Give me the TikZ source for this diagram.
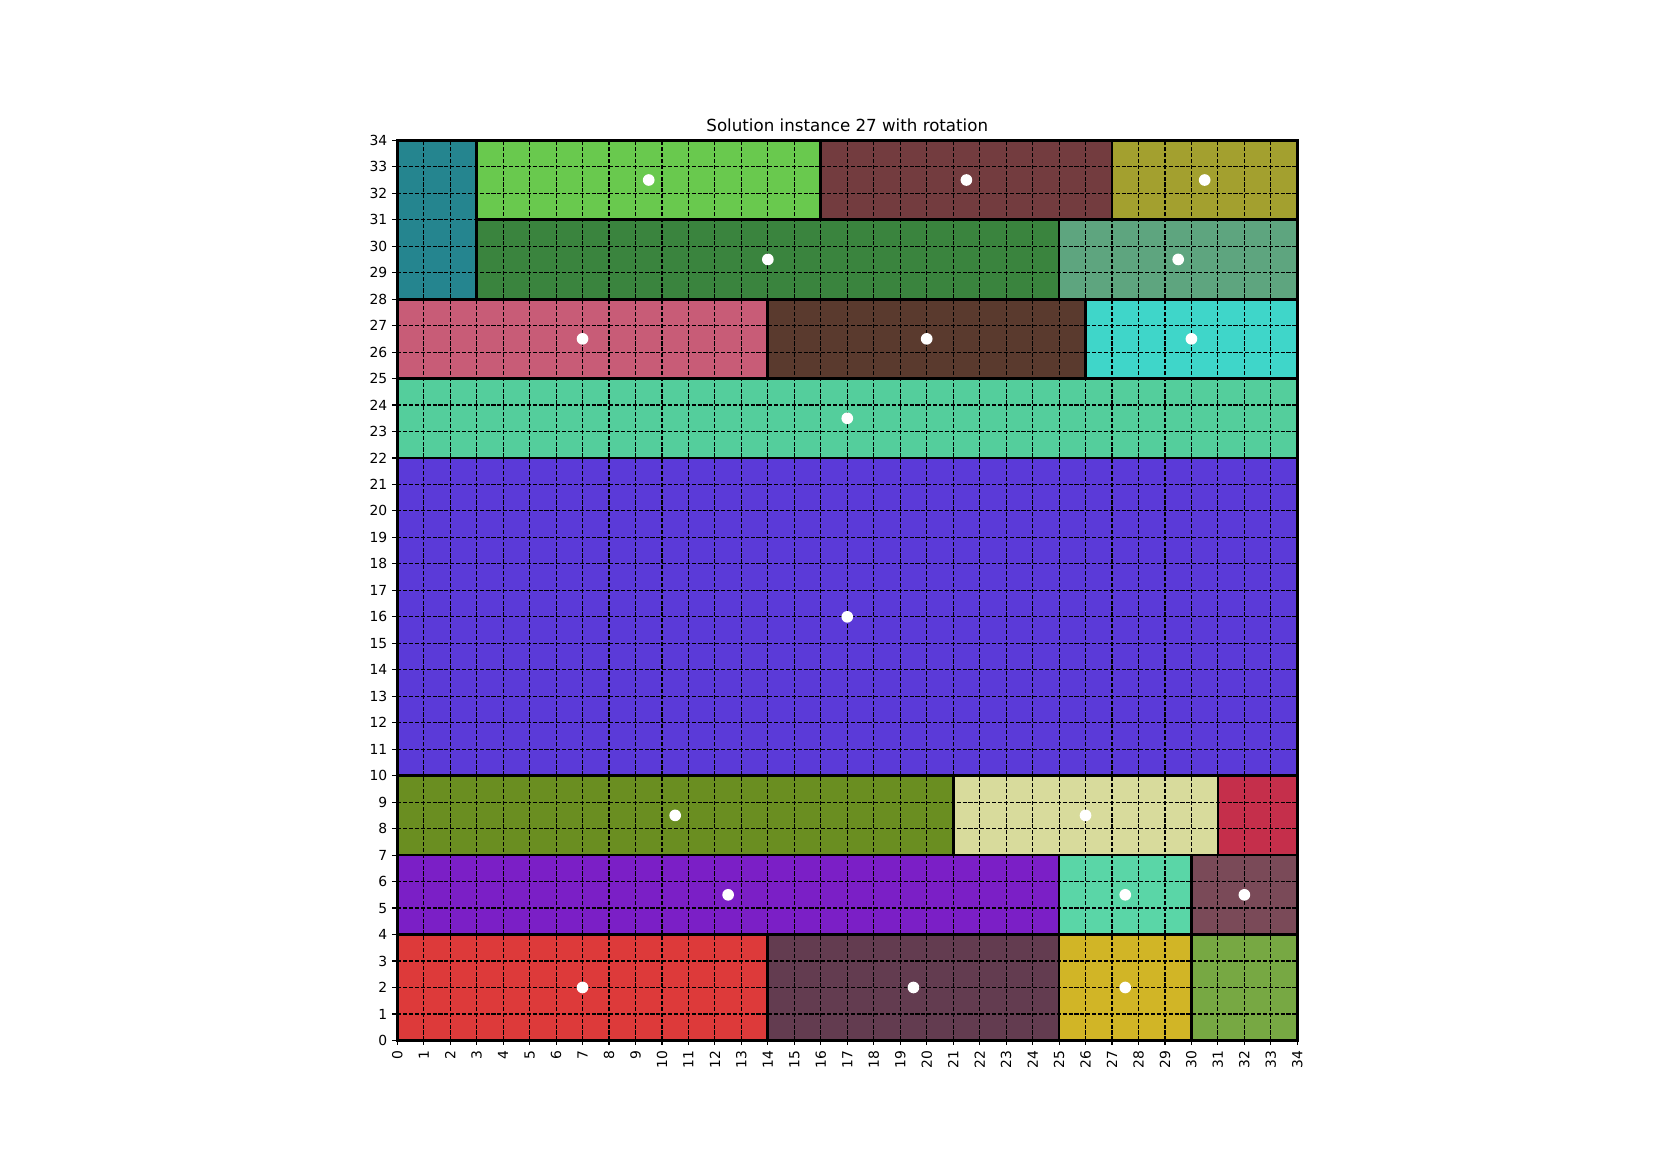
\documentclass[tikz,border=0pt]{standalone}
\usepackage{fontspec}
\setmainfont{DejaVu Sans}
\usepackage{tikz}
\usetikzlibrary{calc}

\definecolor{cTeal}{HTML}{25858F}
\definecolor{cLime}{HTML}{69C94E}
\definecolor{cWine}{HTML}{733C3F}
\definecolor{cOlive}{HTML}{A3A02F}
\definecolor{cForest}{HTML}{3A843E}
\definecolor{cSage}{HTML}{5EA57F}
\definecolor{cRose}{HTML}{C85C77}
\definecolor{cBrown}{HTML}{5A3A2E}
\definecolor{cAqua}{HTML}{3FD6C9}
\definecolor{cMint}{HTML}{54CE9C}
\definecolor{cIndigo}{HTML}{5B3AD8}
\definecolor{cMoss}{HTML}{6A8E21}
\definecolor{cCream}{HTML}{D8DB9C}
\definecolor{cCrimson}{HTML}{C52F4B}
\definecolor{cViolet}{HTML}{7B1FC6}
\definecolor{cSea}{HTML}{5AD6A7}
\definecolor{cMauve}{HTML}{7A4A58}
\definecolor{cRed}{HTML}{DD3A3A}
\definecolor{cPlum}{HTML}{633C50}
\definecolor{cMustard}{HTML}{D1B526}
\definecolor{cGrass}{HTML}{77A843}

\tikzset{
  piece/.style={fill=#1, draw=none},
  pieceedge/.style={draw=black, line width=2pt},
  gridline/.style={black, line width=0.8pt, dash pattern=on 2.96pt off 1.28pt},
  centre/.style={circle, fill=white, inner sep=0pt, minimum size=8.4pt},
  ticklabel/.style={font=\fontsize{10}{12}\selectfont, inner sep=0pt}
}

\begin{document}
\begin{tikzpicture}[x=19.061pt, y=19.061pt]
    \useasboundingbox (-15.004, -4.858) rectangle (47.435, 39.300);

    % Teile: x0, y0, x1, y1, Farbe
    \foreach \xa/\ya/\xb/\yb/\col in {
        0/28/3/34/cTeal, 3/31/16/34/cLime, 16/31/27/34/cWine, 27/31/34/34/cOlive,
        3/28/25/31/cForest, 25/28/34/31/cSage,
        0/25/14/28/cRose, 14/25/26/28/cBrown, 26/25/34/28/cAqua,
        0/22/34/25/cMint, 0/10/34/22/cIndigo,
        0/7/21/10/cMoss, 21/7/31/10/cCream, 31/7/34/10/cCrimson,
        0/4/25/7/cViolet, 25/4/30/7/cSea, 30/4/34/7/cMauve,
        0/0/14/4/cRed, 14/0/25/4/cPlum, 25/0/30/4/cMustard, 30/0/34/4/cGrass}
        \fill[piece=\col] (\xa, \ya) rectangle (\xb, \yb);

    % Gitter
    \foreach \i in {1,...,33} {
        \draw[gridline] (\i, 0) -- (\i, 34);
        \draw[gridline] (0, \i) -- (34, \i);
    }

    % Umrandungen
    \foreach \xa/\ya/\xb/\yb in {
        0/28/3/34, 3/31/16/34, 16/31/27/34, 27/31/34/34,
        3/28/25/31, 25/28/34/31,
        0/25/14/28, 14/25/26/28, 26/25/34/28,
        0/22/34/25, 0/10/34/22,
        0/7/21/10, 21/7/31/10, 31/7/34/10,
        0/4/25/7, 25/4/30/7, 30/4/34/7,
        0/0/14/4, 14/0/25/4, 25/0/30/4, 30/0/34/4}
        \draw[pieceedge] (\xa, \ya) rectangle (\xb, \yb);

    % Mittelpunkte
    \foreach \cx/\cy [count=\k] in {9.5/32.5, 21.5/32.5, 30.5/32.5, 14/29.5, 29.5/29.5,
        7/26.5, 20/26.5, 30/26.5, 17/23.5, 17/16, 10.5/8.5, 26/8.5,
        12.5/5.5, 27.5/5.5, 32/5.5, 7/2, 19.5/2, 27.5/2}
        \node[centre] (m\k) at (\cx, \cy) {};

    % Achsen
    \foreach \i in {0,...,34} {
        \coordinate (xt\i) at (\i, 0);
        \coordinate (yt\i) at (0, \i);
        \draw[line width=0.8pt] (xt\i) -- ++(0, -3.5pt);
        \draw[line width=0.8pt] (yt\i) -- ++(-3.5pt, 0);
        \node[ticklabel, rotate=90, anchor=east] (xl\i) at ($(xt\i)+(0,-7pt)$) {\i};
        \node[ticklabel, anchor=east] (yl\i) at ($(yt\i)+(-7pt,0)$) {\i};
    }

    % Titel
    \node[anchor=base, inner sep=0pt, font=\fontsize{12}{14}\selectfont] (title)
        at ($(17, 34)+(0, 6pt)$) {Solution instance 27 with rotation};
\end{tikzpicture}
\end{document}
